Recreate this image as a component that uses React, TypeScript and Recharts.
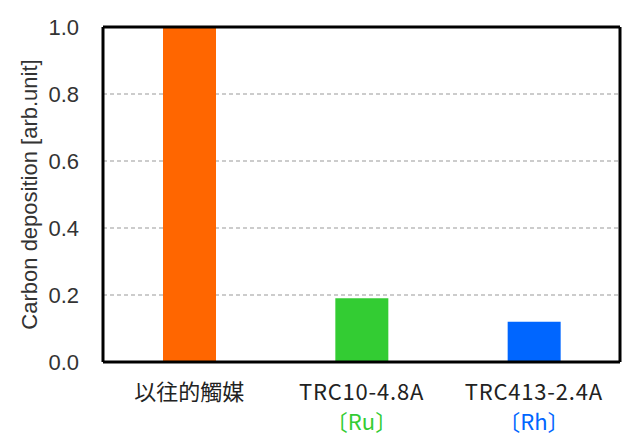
import React from 'react'
import { ComposedChart, Bar, Line, XAxis, YAxis, CartesianGrid, Cell, ReferenceLine } from 'recharts'

const categories = ['以往的觸媒', 'TRC10-4.8A', 'TRC413-2.4A']
const subLabels = ['', '〔Ru〕', '〔Rh〕']
const values = [1.0, 0.19, 0.12]
const yTicks = [0, 0.2, 0.4, 0.6, 0.8, 1.0]

const barColors = ['#ff6600', '#33cc33', '#0066ff']
const subColors = ['#222', '#33cc33', '#0066ff']

const data = categories.map((name, i) => ({ name, value: values[i], sub: subLabels[i] }))

const frame = { stroke: '#000', strokeWidth: 3 }

function CategoryTick({ x, y, payload, index }: any) {
  const i = index ?? categories.indexOf(payload.value)
  const latin = i > 0
  return (
    <g>
      <text
        x={x}
        y={y + 36}
        textAnchor="middle"
        fontSize={22}
        fill="#222"
        letterSpacing={latin ? 0.8 : 0}
        fontFamily="'Noto Sans CJK JP', sans-serif"
      >
        {payload.value}
      </text>
      {subLabels[i] && (
        <text x={x} y={y + 66} textAnchor="middle" fontSize={22} fill={subColors[i]} fontFamily="'Noto Sans CJK JP', sans-serif">
          {subLabels[i]}
        </text>
      )}
    </g>
  )
}

export default function App() {
  return (
    <div style={{ position: 'absolute', left: 0, top: 0, width: 640, height: 440, background: '#fff' }}>
      <ComposedChart width={640} height={440} data={data} margin={{ top: 27, right: 19, left: 0, bottom: 0 }}>
        <CartesianGrid vertical={false} strokeDasharray="4 3" stroke="#999" />
        <XAxis
          dataKey="name"
          height={78}
          axisLine={frame}
          tickLine={false}
          tickSize={0}
          tick={<CategoryTick />}
          interval={0}
        />
        <YAxis
          width={103}
          domain={[0, 1]}
          ticks={yTicks}
          axisLine={frame}
          tickLine={false}
          tickSize={0}
          tickMargin={24}
          tickFormatter={(v: number) => v.toFixed(1)}
          tick={{ fontSize: 22, fill: '#333', fontFamily: 'Liberation Sans, Arial, sans-serif' }}
          label={{
            value: 'Carbon deposition [arb.unit]',
            angle: -90,
            position: 'center',
            dx: -22,
            style: { fontSize: 22, fill: '#333', fontFamily: 'Liberation Sans, Arial, sans-serif' },
          }}
        />
        {/* right-hand axis only draws the right side of the frame */}
        <YAxis
          yAxisId="frame"
          orientation="right"
          width={1}
          domain={[0, 1]}
          axisLine={frame}
          tickLine={false}
          tick={false}
        />
        <Bar dataKey="value" barSize={53} isAnimationActive={false}>
          {data.map((d, i) => (
            <Cell key={d.name} fill={barColors[i]} />
          ))}
        </Bar>
        <Line yAxisId="frame" dataKey="value" stroke="none" dot={false} activeDot={false} legendType="none" isAnimationActive={false} />
        <ReferenceLine y={1} stroke="#000" strokeWidth={3} />
      </ComposedChart>
    </div>
  )
}
